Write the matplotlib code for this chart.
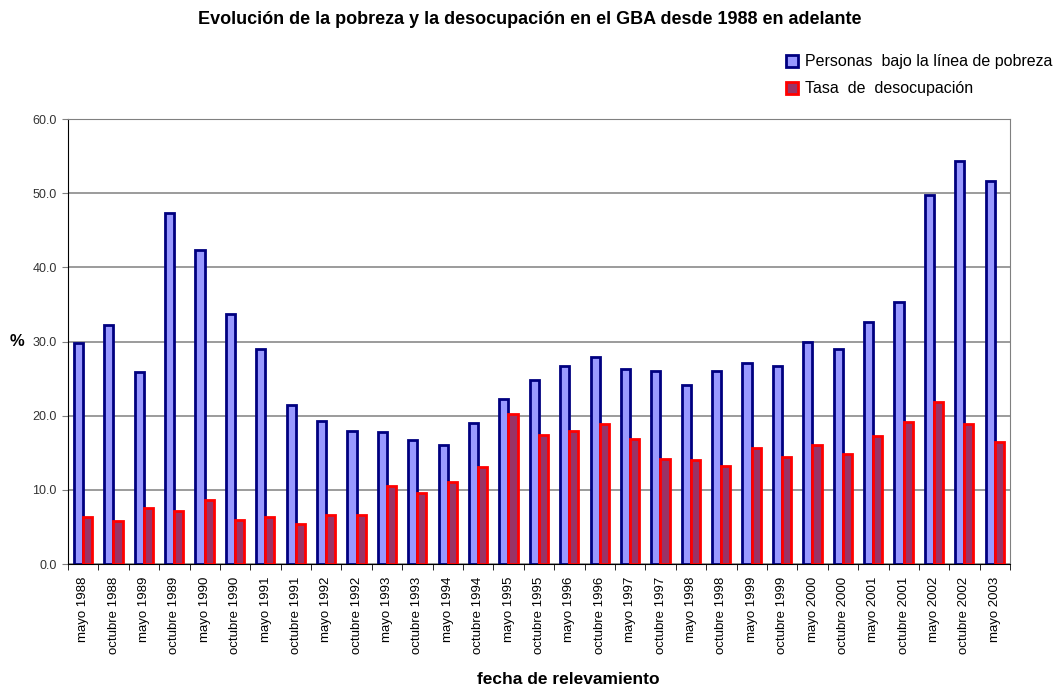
import numpy as np
import matplotlib
matplotlib.use("Agg")
import matplotlib.pyplot as plt

plt.rcParams['font.family'] = ['Liberation Sans', 'DejaVu Sans']

fechas = ["mayo 1988", "octubre 1988", "mayo 1989", "octubre 1989", "mayo 1990",
          "octubre 1990", "mayo 1991", "octubre 1991", "mayo 1992", "octubre 1992",
          "mayo 1993", "octubre 1993", "mayo 1994", "octubre 1994", "mayo 1995",
          "octubre 1995", "mayo 1996", "octubre 1996", "mayo 1997", "octubre 1997",
          "mayo 1998", "octubre 1998", "mayo 1999", "octubre 1999", "mayo 2000",
          "octubre 2000", "mayo 2001", "octubre 2001", "mayo 2002", "octubre 2002",
          "mayo 2003"]
pobreza = [29.8, 32.2, 25.9, 47.3, 42.4, 33.7, 29.0, 21.5, 19.3, 17.9,
           17.8, 16.8, 16.1, 19.0, 22.2, 24.8, 26.7, 27.9, 26.3, 26.0,
           24.2, 26.0, 27.1, 26.7, 29.9, 29.0, 32.7, 35.4, 49.7, 54.3,
           51.7]
desocupacion = [6.3, 5.8, 7.6, 7.1, 8.7, 6.0, 6.3, 5.4, 6.6, 6.6,
                10.6, 9.6, 11.1, 13.1, 20.3, 17.4, 18.0, 18.9, 16.9, 14.2,
                14.1, 13.2, 15.6, 14.5, 16.0, 14.8, 17.3, 19.1, 21.9, 18.9,
                16.4]
yticks = [0, 10, 20, 30, 40, 50, 60]

x = np.arange(len(fechas))

fig = plt.figure(figsize=(10.59, 6.88), dpi=100)
ax = fig.add_axes([0.0642, 0.180, 0.8896, 0.647])

ax.set_axisbelow(True)
ax.yaxis.grid(True, color="#808080", linewidth=1.1)

b1 = ax.bar(x - 0.155, pobreza, width=0.30, color="#9999FF", edgecolor="#000080",
            linewidth=2, label="Personas  bajo la línea de pobreza", zorder=2)
b2 = ax.bar(x + 0.145, desocupacion, width=0.30, color="#993366", edgecolor="#FF0000",
            linewidth=2, label="Tasa  de  desocupación", zorder=3)

ax.set_xlim(-0.5, len(fechas) - 0.5)
ax.set_ylim(0, 60)
ax.set_yticks(yticks)
ax.set_yticklabels([f"{v:.1f}" for v in yticks], fontsize=9, color="#333333")
ax.set_xticks(x)
ax.set_xticklabels(fechas, rotation=90, fontsize=9.5)
ax.set_xticks(np.arange(-0.5, len(fechas)), minor=True)
ax.tick_params(axis="x", which="major", length=0, pad=9)
ax.tick_params(axis="x", which="minor", length=4, direction="out", color="black")
ax.tick_params(axis="y", length=4, direction="out", pad=4, color="#808080")

for s in ["top", "right"]:
    ax.spines[s].set_color("#808080")
ax.spines["left"].set_color("black")
ax.spines["bottom"].set_color("black")

fig.text(17 / 1059, 1 - 342 / 688, "%", fontsize=12, fontweight="bold",
         ha="center", va="center")
fig.text(568 / 1059, 1 - 680 / 688, "fecha de relevamiento", fontsize=12.5,
         fontweight="bold", ha="center", va="center")
fig.text(530 / 1059, 1 - 20 / 688,
         "Evolución de la pobreza y la desocupación en el GBA desde 1988 en adelante",
         fontsize=13, fontweight="bold", ha="center", va="center")

fig.legend(handles=[b1, b2], loc="upper left", bbox_to_anchor=(772 / 1059, 1 - 40 / 688),
           frameon=False, fontsize=11.5, handlelength=0.75, handleheight=0.75,
           handletextpad=0.4, labelspacing=0.75)

fig.savefig("out.png", dpi=100)
